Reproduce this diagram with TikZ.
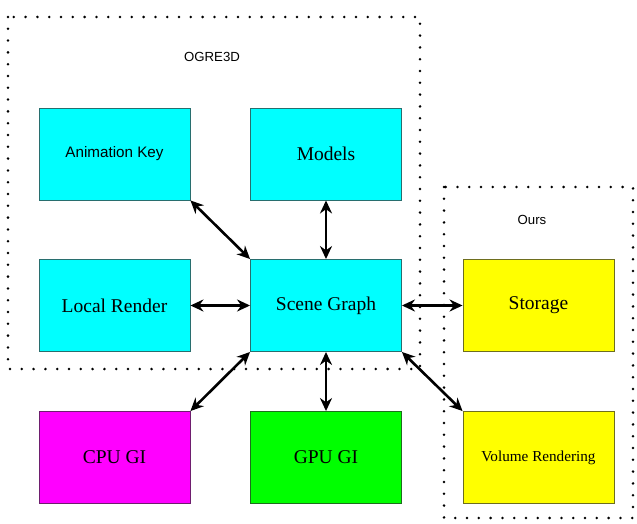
\documentclass[tikz,border=0pt]{standalone}
\usepackage{fontspec}
\setmainfont{Liberation Serif}
\setsansfont{Liberation Sans}
\usetikzlibrary{arrows.meta}
\definecolor{cy}{RGB}{0,255,255}
\definecolor{cyb}{RGB}{40,110,110}
\definecolor{ma}{RGB}{255,0,255}
\definecolor{mab}{RGB}{110,30,110}
\definecolor{gr}{RGB}{0,255,0}
\definecolor{grb}{RGB}{30,110,30}
\definecolor{ye}{RGB}{255,255,0}
\definecolor{yeb}{RGB}{110,110,30}
\begin{document}
\begin{tikzpicture}[x=1pt,y=-1pt,
  box/.style={line width=0.9pt,minimum width=151pt,minimum height=92pt,inner sep=0pt,anchor=center},
  big/.style={font=\fontsize{19.5}{22}\selectfont},
  small/.style={font=\fontsize{15.2}{17}\selectfont},
  grp/.style={draw=black,line width=2.8pt,line cap=round,dash pattern=on 0pt off 11.8pt},
  lbl/.style={font=\sffamily\fontsize{13.2}{15}\selectfont,inner sep=0pt},
  link/.style={line width=2.6pt,{Stealth[length=13pt,width=12pt]}-{Stealth[length=13pt,width=12pt]}}]
\useasboundingbox (0,0) rectangle (637,524);
\coordinate (g1a) at (8,17);
\coordinate (g1b) at (420,369);
\draw[grp] (g1a) rectangle (g1b);
\coordinate (g2a) at (444,187);
\coordinate (g2b) at (633,518);
\draw[grp] (g2a) rectangle (g2b);
\node[lbl] (ogre) at (212,57) {OGRE3D};
\node[lbl] (ours) at (532,220) {Ours};
\node[box,fill=cy,draw=cyb] (ak) at (114.5,154) {\sffamily\fontsize{15.2}{17}\selectfont Animation Key};
\node[box,fill=cy,draw=cyb,big] (mo) at (326,154) {Models};
\node[box,fill=cy,draw=cyb,big] (lr) at (114.5,305.5) {Local Render};
\node[box,fill=cy,draw=cyb,big] (sg) at (326,305.5) {Scene Graph};
\node[box,fill=ye,draw=yeb,big] (st) at (538.5,305.5) {Storage};
\node[box,fill=ma,draw=mab,big] (cpu) at (114.5,457.5) {CPU GI};
\node[box,fill=gr,draw=grb,big] (gpu) at (326,457.5) {GPU GI};
\node[box,fill=ye,draw=yeb,small] (vr) at (538.5,457.5) {Volume Rendering};
\draw[link] (ak.south east) -- (sg.north west);
\draw[link] (mo.south) -- (sg.north);
\draw[link] (lr.east) -- (sg.west);
\draw[link] (sg.east) -- (st.west);
\draw[link] (sg.south west) -- (cpu.north east);
\draw[link] (sg.south) -- (gpu.north);
\draw[link] (sg.south east) -- (vr.north west);
\end{tikzpicture}
\end{document}
